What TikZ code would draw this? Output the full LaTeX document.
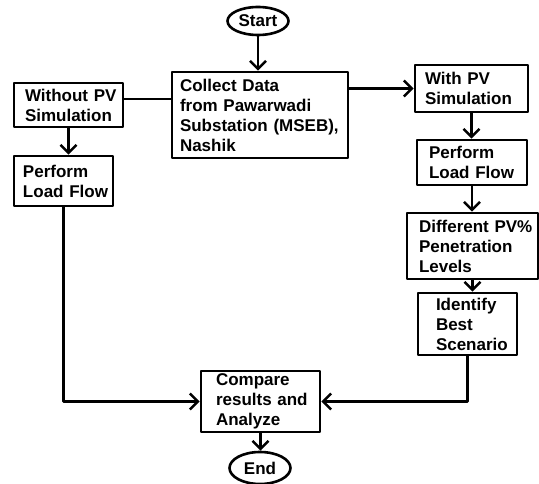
\documentclass[tikz,border=0pt]{standalone}
\usepackage{fontspec}
\setmainfont{Liberation Sans}
\usetikzlibrary{arrows.meta,shapes.geometric}
\hyphenpenalty=10000
\exhyphenpenalty=10000
\begin{document}
\begin{tikzpicture}[x=1pt,y=-1pt,line width=2.6pt,line join=round,
    font=\bfseries\fontsize{17}{20}\selectfont,
    >={Straight Barb[length=8pt,width=16pt]},
    box/.style={draw,align=left,inner ysep=2pt},
    term/.style={draw,ellipse,inner sep=0pt}]
    \useasboundingbox (0,0) rectangle (539,484);
    % terminals
    \node[term,minimum width=61pt,minimum height=28pt] (start) at (258,21) {Start};
    \node[term,minimum width=61pt,minimum height=32pt] (end) at (260,468) {End};
    % boxes
    \node[box,text width=160pt,inner xsep=8pt,minimum height=86pt] (collect) at (260,115)
        {Collect~Data\\from~Pawarwadi\\Substation~(MSEB),\\Nashik};
    \node[box,text width=87pt,inner xsep=11pt,minimum height=44pt] (without) at (68.5,105)
        {Without~PV\\Simulation};
    \node[box,text width=81pt,inner xsep=9pt,minimum height=50pt] (performL) at (63.5,181)
        {Perform\\Load~Flow};
    \node[box,text width=93pt,inner xsep=10pt,minimum height=47pt] (withpv) at (471.5,88.5)
        {With~PV\\Simulation};
    \node[box,text width=86pt,inner xsep=12pt,minimum height=45pt] (performR) at (472,162.5)
        {Perform\\Load~Flow};
    \node[box,text width=107pt,inner xsep=12pt,minimum height=66pt] (levels) at (472.5,246)
        {Different~PV\%\\Penetration\\Levels};
    \node[box,text width=63pt,inner xsep=18pt,minimum height=62pt] (best) at (467.5,324)
        {Identify\\Best\\Scenario};
    \node[box,text width=89pt,inner xsep=15pt,minimum height=61pt] (compare) at (260.5,401.5)
        {Compare\\results~and\\Analyze};
    % connectors
    \draw[->] (start) -- (start |- collect.north);
    \draw ([yshift=16pt]collect.west) coordinate (c1) -- (without.east |- c1);
    \draw[->] (collect.east |- withpv.west) -- (withpv.west);
    \draw[->] (without.south) -- (without.south |- performL.north);
    \draw[->] (performL.south) |- (compare.west);
    \draw[->] (withpv.south) -- (withpv.south |- performR.north);
    \draw[->] (performR.south) -- (performR.south |- levels.north);
    \draw[->] (levels.south) -- (levels.south |- best.north);
    \draw[->] (best.south) |- (compare.east);
    \draw[->] (compare.south) -- (compare.south |- end.north);
\end{tikzpicture}
\end{document}
